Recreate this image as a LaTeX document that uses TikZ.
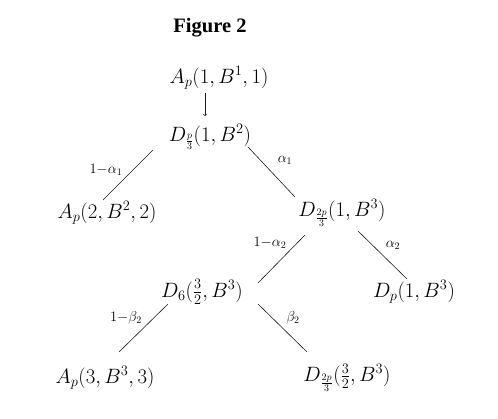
\documentclass[tikz,border=0pt]{standalone}
\usepackage{fontspec}
\newfontfamily\figfont{Liberation Serif}
\usetikzlibrary{calc}
\begin{document}
\begin{tikzpicture}[x=1pt,y=-1pt,
  st/.style={inner sep=0pt,font=\fontsize{19.5}{23}\selectfont},
  lab/.style={inner sep=0pt,font=\fontsize{19.5}{23}\selectfont},
  edge/.style={line width=0.6pt,draw=black!90}]
\useasboundingbox (0,0) rectangle (498,419);
\node[inner sep=0pt,font=\figfont\bfseries\fontsize{20.5}{24}\selectfont] (title) at (210,28) {Figure 2};
\node[st] (a1) at (219,78) {$A_p(1,B^1,1)$};
\node[st] (d1) at (210,137) {$D_{\frac{p}{3}}(1,B^2)$};
\node[st] (a2) at (107,213) {$A_p(2,B^2,2)$};
\node[st] (d2) at (342,213) {$D_{\frac{2p}{3}}(1,B^3)$};
\node[st] (d6) at (202,292) {$D_6(\frac{3}{2},B^3)$};
\node[st] (dp) at (414,292) {$D_p(1,B^3)$};
\node[st] (a3) at (105,378) {$A_p(3,B^3,3)$};
\node[st] (d4) at (347,378) {$D_{\frac{2p}{3}}(\frac{3}{2},B^3)$};
\draw[edge,-to] ($(a1)+(-14,15)$) -- ($(d1)+(-5,-21)$);
\draw[edge] ($(d1)+(-57,13)$) -- ($(a2)+(-4,-13)$);
\draw[edge] ($(d1)+(38,10)$) -- ($(d2)+(-47,-16)$);
\draw[edge] ($(d2)+(-37,22)$) -- ($(d6)+(56,-9)$);
\draw[edge] ($(d2)+(16,18)$) -- ($(dp)+(-7,-13)$);
\draw[edge] ($(d6)+(-34,12)$) -- ($(a3)+(14,-26)$);
\draw[edge] ($(d6)+(56,12)$) -- ($(d4)+(-40,-26)$);
\node[lab] (l1) at (106,170) {$\scriptstyle 1-\alpha_1$};
\node[lab] (l2) at (285,160) {$\scriptstyle \alpha_1$};
\node[lab] (l3) at (270,243) {$\scriptstyle 1-\alpha_2$};
\node[lab] (l4) at (393,245) {$\scriptstyle \alpha_2$};
\node[lab] (l5) at (126,318) {$\scriptstyle 1-\beta_2$};
\node[lab] (l6) at (293,318) {$\scriptstyle \beta_2$};
\end{tikzpicture}
\end{document}
